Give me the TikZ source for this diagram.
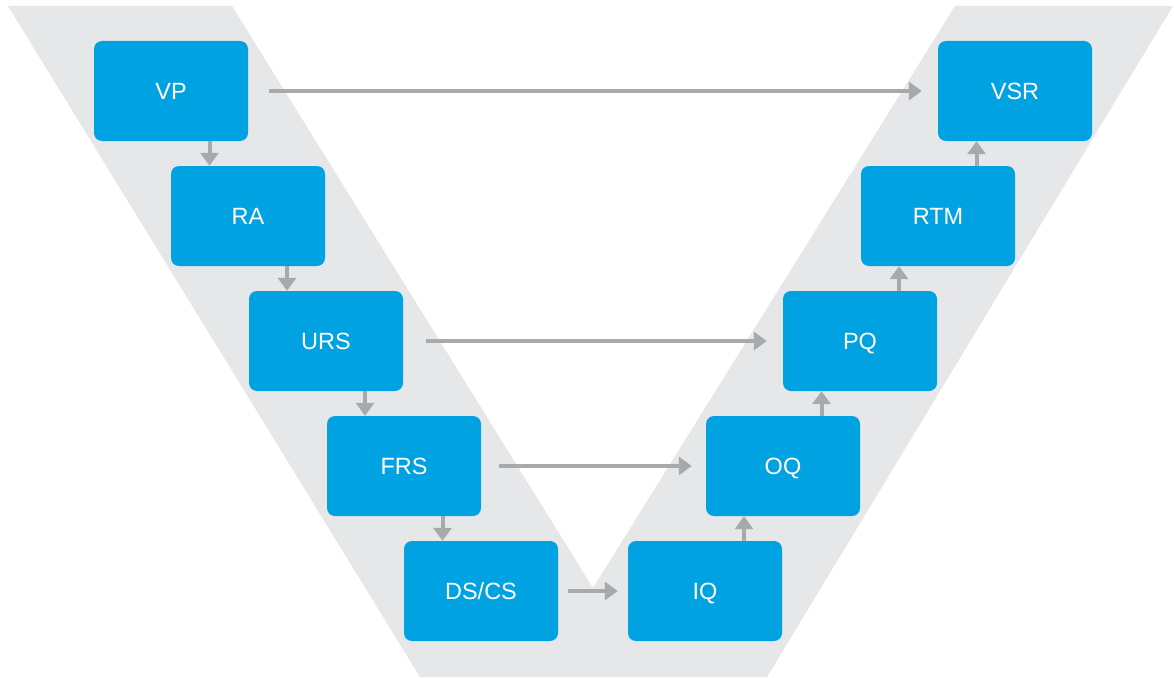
\documentclass[tikz,border=0pt]{standalone}
\usepackage{fontspec}
\setmainfont{Liberation Sans}
\usetikzlibrary{arrows.meta,calc}
\definecolor{bandgray}{HTML}{E6E7E8}
\definecolor{boxblue}{HTML}{00A2E1}
\definecolor{arrgray}{HTML}{A7A9AC}
\tikzset{
  stage/.style={rectangle, rounded corners=8pt, fill=boxblue, text=white,
    minimum width=154pt, minimum height=100pt, inner sep=0pt,
    text height=17pt, text depth=0pt,
    font=\fontsize{23.5}{28}\selectfont},
  arr/.style={draw=arrgray, line width=4pt, -{Triangle[length=13pt,width=18pt]}}
}
\begin{document}
\begin{tikzpicture}[x=1pt,y=-1pt]
\useasboundingbox (0,0) rectangle (1174,677);
\fill[bandgray] (8,6) -- (232,6) -- (593,588) -- (955,6) -- (1173,6) -- (767,677) -- (420,677) -- cycle;
\node[stage] (VP) at (171,91) {VP};
\node[stage] (RA) at (248,216) {RA};
\node[stage] (URS) at (326,341) {URS};
\node[stage] (FRS) at (404,466) {FRS};
\node[stage] (DS) at (481,591) {DS/CS};
\node[stage] (IQ) at (705,591) {IQ};
\node[stage] (OQ) at (783,466) {OQ};
\node[stage] (PQ) at (860,341) {PQ};
\node[stage] (RTM) at (938,216) {RTM};
\node[stage] (VSR) at (1015,91) {VSR};
% horizontal arrows
\draw[arr, shorten <=21pt, shorten >=16pt] (VP) -- (VSR);
\draw[arr, shorten <=23pt, shorten >=16pt] (URS) -- (PQ);
\draw[arr, shorten <=18pt, shorten >=14pt] (FRS) -- (OQ);
\draw[arr, shorten <=10pt, shorten >=10pt] (DS) -- (IQ);
% vertical arrows
\coordinate (m1) at ($(RA.west)!.5!(VP.east)$);
\coordinate (m2) at ($(URS.west)!.5!(RA.east)$);
\coordinate (m3) at ($(FRS.west)!.5!(URS.east)$);
\coordinate (m4) at ($(DS.west)!.5!(FRS.east)$);
\coordinate (m5) at ($(OQ.west)!.5!(IQ.east)$);
\coordinate (m6) at ($(PQ.west)!.5!(OQ.east)$);
\coordinate (m7) at ($(RTM.west)!.5!(PQ.east)$);
\coordinate (m8) at ($(VSR.west)!.5!(RTM.east)$);
\draw[arr] (VP.south -| m1) -- (RA.north -| m1);
\draw[arr] (RA.south -| m2) -- (URS.north -| m2);
\draw[arr] (URS.south -| m3) -- (FRS.north -| m3);
\draw[arr] (FRS.south -| m4) -- (DS.north -| m4);
\draw[arr] (IQ.north -| m5) -- (OQ.south -| m5);
\draw[arr] (OQ.north -| m6) -- (PQ.south -| m6);
\draw[arr] (PQ.north -| m7) -- (RTM.south -| m7);
\draw[arr] (RTM.north -| m8) -- (VSR.south -| m8);
\end{tikzpicture}
\end{document}
